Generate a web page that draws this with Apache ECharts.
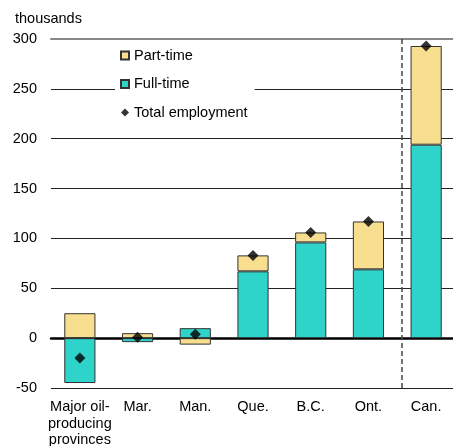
<!DOCTYPE html>
<html><head><meta charset="utf-8">
<script src="https://cdn.jsdelivr.net/npm/echarts@6/dist/echarts.min.js"></script>
<style>html,body{margin:0;padding:0;background:#fff}#c{width:453px;height:446px}</style>
</head><body><div id="c"></div>
<script>
var categories = ['Major oil-\nproducing\nprovinces', 'Mar.', 'Man.', 'Que.', 'B.C.', 'Ont.', 'Can.'];
var fullTime = [-45, -4, 10, 67, 96, 69, 194];
var partTime = [25, 5, -6.5, 16, 10, 48, 99];
var totalEmployment = [-20, 1, 4, 83, 106, 117, 293];
var yTicks = [-50, 0, 50, 100, 150, 200, 250, 300];
var separatorAt = 6.08;

var font = 'Liberation Sans, Arial, sans-serif';
var fs = 14.5;
var chart = echarts.init(document.getElementById('c'), null, {renderer: 'canvas'});
chart.setOption({
  animation: false,
  textStyle: {fontFamily: font},
  title: {text: 'thousands', left: 15, top: 11, padding: 0,
    textStyle: {fontSize: fs, fontWeight: 'normal', color: '#000', fontFamily: font}},
  legend: {
    orient: 'vertical', left: 115, top: 42, itemWidth: 8, itemHeight: 8, itemGap: 13.5,
    padding: [6, 7, 6, 5], backgroundColor: '#fff',
    data: [{name: 'Part-time', icon: 'rect'}, {name: 'Full-time', icon: 'rect'}, {name: 'Total employment', icon: 'diamond'}],
    textStyle: {fontSize: fs, color: '#000', fontFamily: font}
  },
  grid: {left: 51, right: -2, top: 39, bottom: 58, containLabel: false, outerBoundsMode: 'none'},
  xAxis: [{
    type: 'category', data: categories,
    axisLine: {onZero: true, lineStyle: {color: '#000', width: 2.5}},
    axisTick: {show: false},
    axisLabel: {color: '#000', fontSize: fs, lineHeight: 16.5, margin: 11, interval: 0, fontFamily: font},
    splitLine: {show: false}
  }, {
    type: 'value', position: 'top', min: 0, max: 7,
    axisLine: {show: true, onZero: false, lineStyle: {color: '#888', width: 2}},
    axisTick: {show: false}, axisLabel: {show: false}, splitLine: {show: false}
  }],
  yAxis: {
    type: 'value', min: yTicks[0], max: yTicks[yTicks.length - 1], interval: 50,
    axisLine: {show: false}, axisTick: {show: false},
    axisLabel: {color: '#000', fontSize: fs, margin: 14, fontFamily: font},
    splitLine: {lineStyle: {color: '#222', width: 1}}
  },
  series: [{
    name: 'Full-time', type: 'bar', stack: 'emp', data: fullTime, barWidth: '54%',
    itemStyle: {color: '#2ED3C9', borderColor: '#333', borderWidth: 1}
  }, {
    name: 'Part-time', type: 'bar', stack: 'emp', data: partTime, barWidth: '54%',
    itemStyle: {color: '#F7DF8F', borderColor: '#333', borderWidth: 1}
  }, {
    name: 'Total employment', type: 'scatter', data: totalEmployment,
    symbol: 'diamond', symbolSize: 11, itemStyle: {color: '#000'}, z: 5
  }, {
    name: 'sep', type: 'line', xAxisIndex: 1, data: [], silent: true,
    markLine: {silent: true, symbol: 'none', label: {show: false},
      lineStyle: {color: '#444', type: [5, 3], width: 1.5},
      data: [{xAxis: separatorAt}]}
  }]
});
</script></body></html>
